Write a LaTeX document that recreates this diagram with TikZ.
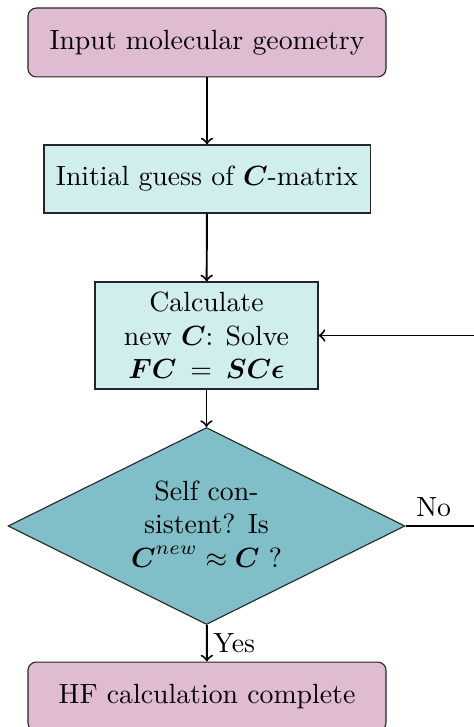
\documentclass[tikz,border=0pt]{standalone}
\usepackage{amsmath}
\usetikzlibrary{shapes.geometric,arrows}
\definecolor{pinkbox}{RGB}{224,188,210}
\definecolor{cyanbox}{RGB}{208,238,238}
\definecolor{tealbox}{RGB}{128,190,200}
\tikzset{
  term/.style={draw=black!85, fill=pinkbox, rounded corners=3pt, minimum width=128.9pt, minimum height=24.8pt, inner sep=2pt},
  proc/.style={draw=black!85, fill=cyanbox, inner sep=2pt},
  dec/.style={draw=black!85, fill=tealbox, diamond, minimum width=142.9pt, minimum height=70.9pt, inner sep=0pt},
  conn/.style={->, line width=0.7pt},
}
\begin{document}
\begin{tikzpicture}[x=0.36pt, y=-0.36pt]
\useasboundingbox (0,0) rectangle (474,727);
\node[term] (start) at (207,42.5) {Input molecular geometry};
\node[proc, minimum width=117.4pt, minimum height=24.5pt] (guess) at (207,179) {Initial guess of $\boldsymbol{C}$-matrix};
\node[proc, minimum width=80.3pt, minimum height=38.5pt, align=center] (calc) at (206.5,335.5) {Calculate\\new $\boldsymbol{C}$: Solve\\$\boldsymbol{FC} \:=\: \boldsymbol{SC\epsilon}$};
\node[dec] (check) at (206.5,526) {};
\node[align=center, inner sep=0pt] (checktext) at (206.5,524) {Self con-\\sistent? Is\\$\boldsymbol{C}^{new} \approx \boldsymbol{C}$ ?};
\node[term] (done) at (207,696.5) {HF calculation complete};
\coordinate (loop) at (484,526);
\draw[conn] (start) -- (guess);
\draw[conn] (guess) -- (calc);
\draw[conn] (calc) -- (check);
\draw[conn] (check) -- node[right, inner sep=2pt] (yes) {Yes} (done);
\draw[conn] (check.east) -- node[above, inner sep=3pt, xshift=-4pt] (no) {No} (loop) |- (calc.east);
\end{tikzpicture}
\end{document}
